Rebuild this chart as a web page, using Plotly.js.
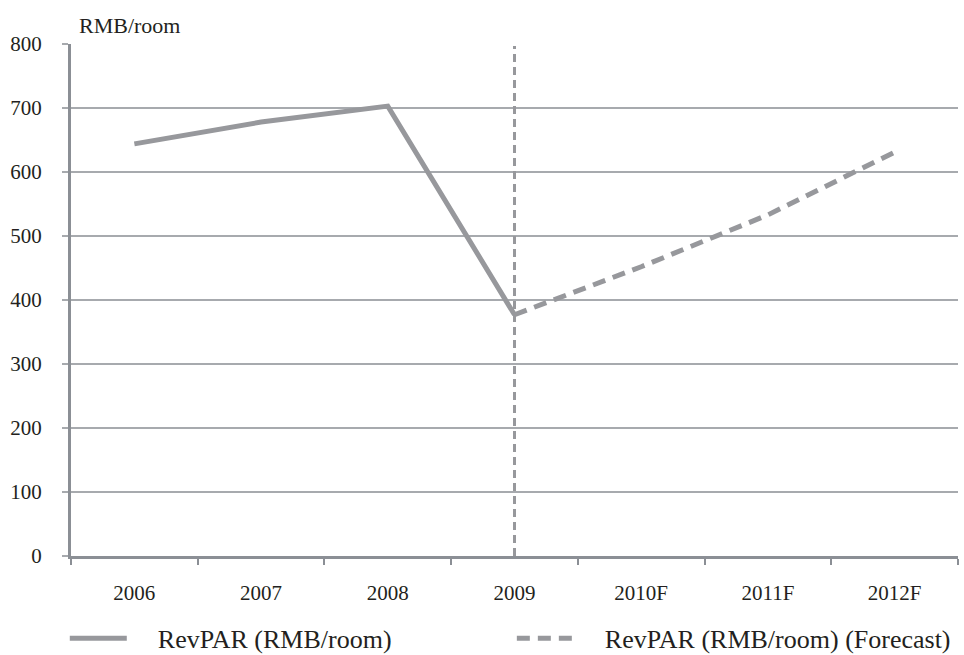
<!DOCTYPE html>
<html>
<head>
<meta charset="utf-8">
<script src="https://cdn.plot.ly/plotly-3.0.1.min.js"></script>
<style>html,body{margin:0;padding:0;background:#fff}#chart{width:964px;height:655px}</style>
</head>
<body>
<div id="chart"></div>
<script>
var categories = ["2006", "2007", "2008", "2009", "2010F", "2011F", "2012F"];
var actualYears = ["2006", "2007", "2008", "2009"];
var actualValues = [644, 678, 703, 377];
var forecastYears = ["2009", "2010F", "2011F", "2012F"];
var forecastValues = [377, 452, 533, 631];
var yTicks = [0, 100, 200, 300, 400, 500, 600, 700, 800];
var dividerYear = "2009";
var seriesNames = ["RevPAR (RMB/room)", "RevPAR (RMB/room) (Forecast)"];

var lineColor = "#97989c";
var gridColor = "#a7aaae";
var axisColor = "#8b8f95";
var textColor = "#231f20";
var fontFam = "'Liberation Serif', 'Times New Roman', Times, serif";
var pad = "\u00a0\u00a0\u00a0\u00a0";

var traces = [
  {x: actualYears, y: actualValues, type: "scatter", mode: "lines",
   name: pad + seriesNames[0], legend: "legend", line: {color: lineColor, width: 5}},
  {x: forecastYears, y: forecastValues, type: "scatter", mode: "lines",
   name: pad + seriesNames[1], legend: "legend2", line: {color: lineColor, width: 5, dash: "13px,8px"}}
];

var legendBase = {orientation: "h", xanchor: "left", yanchor: "middle", y: -0.161,
                  font: {size: 26, family: fontFam, color: textColor}, itemwidth: 57,
                  bgcolor: "rgba(0,0,0,0)"};

var layout = {
  width: 964, height: 655,
  margin: {l: 71, r: 6, t: 44, b: 99, autoexpand: false},
  paper_bgcolor: "#fff", plot_bgcolor: "#fff",
  font: {family: fontFam, color: textColor, size: 21},
  showlegend: true,
  legend: Object.assign({}, legendBase, {x: -0.007}),
  legend2: Object.assign({}, legendBase, {x: 0.497}),
  xaxis: {type: "category", categoryorder: "array", categoryarray: categories,
          range: [-0.5, 6.5], tickson: "boundaries", ticks: "outside", ticklen: 6,
          tickwidth: 2, tickcolor: axisColor, showline: true, linecolor: axisColor,
          linewidth: 3, showgrid: false, zeroline: false, ticklabelstandoff: 16,
          automargin: false,
          tickfont: {size: 21, family: fontFam, color: textColor}, fixedrange: true},
  yaxis: {range: [0, 800], tickvals: yTicks, ticks: "outside", ticklen: 6,
          tickwidth: 2, tickcolor: gridColor, showline: true, linecolor: axisColor,
          linewidth: 3, showgrid: true, gridcolor: gridColor, gridwidth: 2,
          zeroline: false, ticklabelstandoff: 16, automargin: false,
          tickfont: {size: 21, family: fontFam, color: textColor}, fixedrange: true},
  shapes: [
    {type: "line", xref: "x", yref: "paper", x0: categories.indexOf(dividerYear),
     x1: categories.indexOf(dividerYear), y0: 0, y1: 0.996,
     line: {color: lineColor, width: 3, dash: "8px,5px"}, layer: "above"}
  ],
  annotations: [
    {text: "RMB/room", xref: "paper", yref: "paper", x: 0.0068, y: 1.037, xanchor: "left",
     yanchor: "middle", showarrow: false, font: {size: 22, family: fontFam, color: textColor}}
  ]
};

Plotly.newPlot("chart", traces, layout, {displayModeBar: false, staticPlot: true});
</script>
</body>
</html>
